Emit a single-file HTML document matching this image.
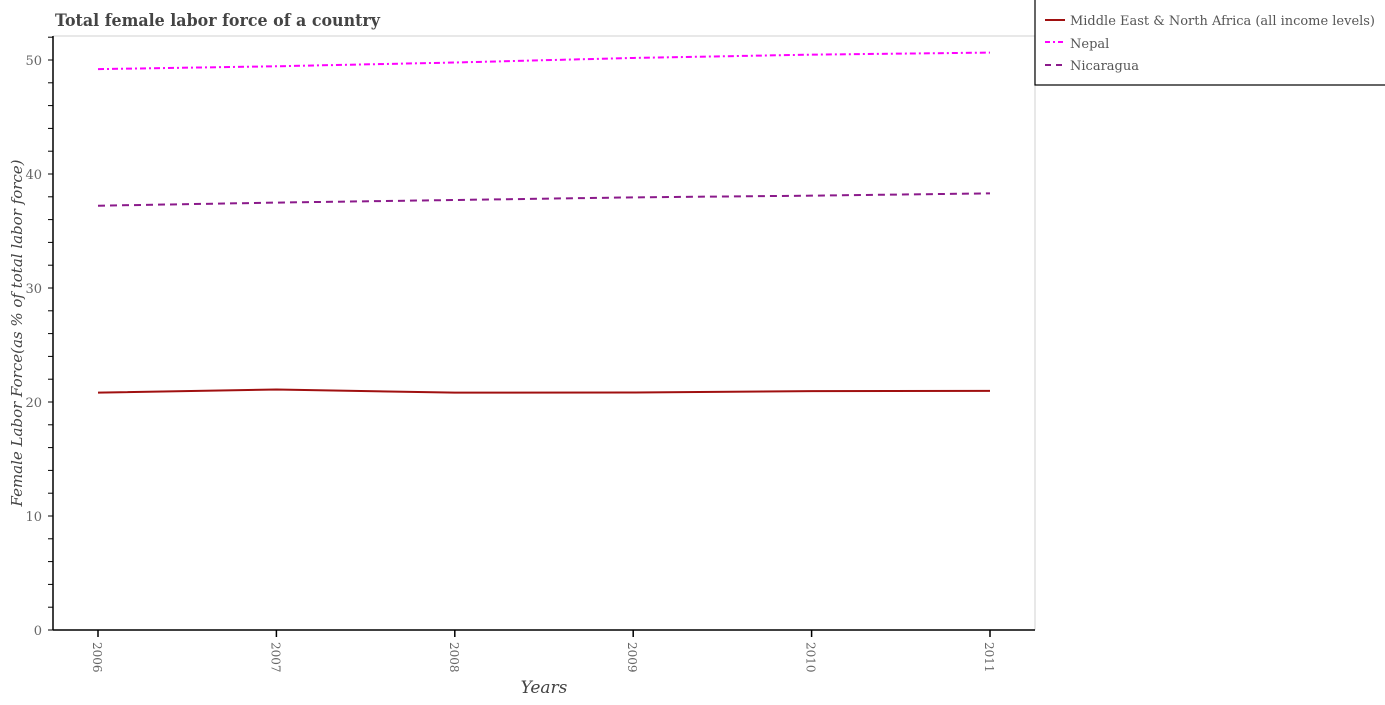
<!DOCTYPE html>
<html><head><meta charset="utf-8"><style>
body{margin:0;background:#fff;width:1385px;height:700px;overflow:hidden}
svg text{font-family:"DejaVu Serif","Liberation Serif",serif}
</style></head><body>
<svg id="chart" width="1385" height="700" xmlns="http://www.w3.org/2000/svg">
<text x="55" y="26" textLength="325" lengthAdjust="spacingAndGlyphs" font-size="17" font-weight="bold" fill="#444">Total female labor force of a country</text>
<line x1="53" y1="36" x2="1035" y2="36" stroke="#e0e0e0" stroke-width="1.5"/>
<line x1="1035" y1="36" x2="1035" y2="630" stroke="#e0e0e0" stroke-width="1.5"/>
<g id="axes"></g>
<g id="series"></g>
<text transform="translate(22,333) rotate(-90)" text-anchor="middle" font-size="15" font-style="italic" fill="#444">Female Labor Force(as % of total labor force)</text>
<text x="544" y="693" text-anchor="middle" font-size="17" font-style="italic" fill="#444">Years</text>
<g>
<rect x="1035" y="-2" width="360" height="87" fill="#fff" stroke="#000" stroke-width="1.2"/>
<line x1="1045" y1="20" x2="1065" y2="20" stroke="#a01010" stroke-width="2"/>
<text x="1070" y="25" textLength="305" lengthAdjust="spacingAndGlyphs" font-size="13" fill="#555">Middle East &amp; North Africa (all income levels)</text>
<line x1="1045" y1="42" x2="1065" y2="42" stroke="#ff00ff" stroke-width="2" stroke-dasharray="5,3,2,3"/>
<text x="1070" y="48" font-size="13" fill="#555">Nepal</text>
<line x1="1045" y1="65" x2="1065" y2="65" stroke="#8b1a8b" stroke-width="2" stroke-dasharray="6,5"/>
<text x="1070" y="70" font-size="13" fill="#555">Nicaragua</text>
</g>
</svg>
<script>
const years = [2006, 2007, 2008, 2009, 2010, 2011];
const menaValues = [20.82, 21.1, 20.82, 20.83, 20.95, 20.98];
const nepalValues = [49.2, 49.45, 49.78, 50.18, 50.47, 50.65];
const nicaraguaValues = [37.22, 37.49, 37.72, 37.95, 38.1, 38.3];
const yTickLabels = [0, 10, 20, 30, 40, 50];

const NS = "http://www.w3.org/2000/svg";
function xS(v){return 98 + (v - 2006) * 178.4;}
function yS(v){return 630 - v * 11.4;}
const axes = document.getElementById('axes');
function mk(tag, attrs, parent){const e=document.createElementNS(NS,tag);for(const k in attrs)e.setAttribute(k,attrs[k]);parent.appendChild(e);return e;}

const yAxis = mk('line',{x1:53,y1:36,x2:53,y2:630,stroke:'#000','stroke-width':1.5},axes);


const xAxis = mk('line',{x1:53,y1:630,x2:1035,y2:630,stroke:'#000','stroke-width':1.5},axes);


for(let v=0; v<=52; v+=2){
  const t = mk('line',{x1:48,y1:yS(v),x2:53,y2:yS(v),stroke:'#000','stroke-width':1},axes);
  
  
}
yTickLabels.forEach(v=>{
  const t = mk('text',{x:42,y:yS(v)+5,'text-anchor':'end','font-size':13,fill:'#666'},axes);
  t.textContent = v;
  
  
});
years.forEach(yr=>{
  const x = xS(yr);
  const tk = mk('line',{x1:x,y1:630,x2:x,y2:637,stroke:'#000','stroke-width':1.5},axes);
  
  
  const t = mk('text',{transform:`translate(${x-5},642) rotate(90)`,'font-size':12,fill:'#666'},axes);
  t.textContent = yr;
  
  
});

const series = document.getElementById('series');
function draw(vals, color, dash, name){
  const d = vals.map((v,i)=>(i?'L':'M')+xS(years[i])+','+yS(v)).join(' ');
  const p = mk('path',{d:d,fill:'none',stroke:color,'stroke-width':2,'stroke-dasharray':dash},series);
  
  
}
draw(menaValues,'#a01010','none','mena-line');
draw(nepalValues,'#ff00ff','6,3,2,3','nepal-line');
draw(nicaraguaValues,'#8b1a8b','7,5','nicaragua-line');
</script>
</body></html>
